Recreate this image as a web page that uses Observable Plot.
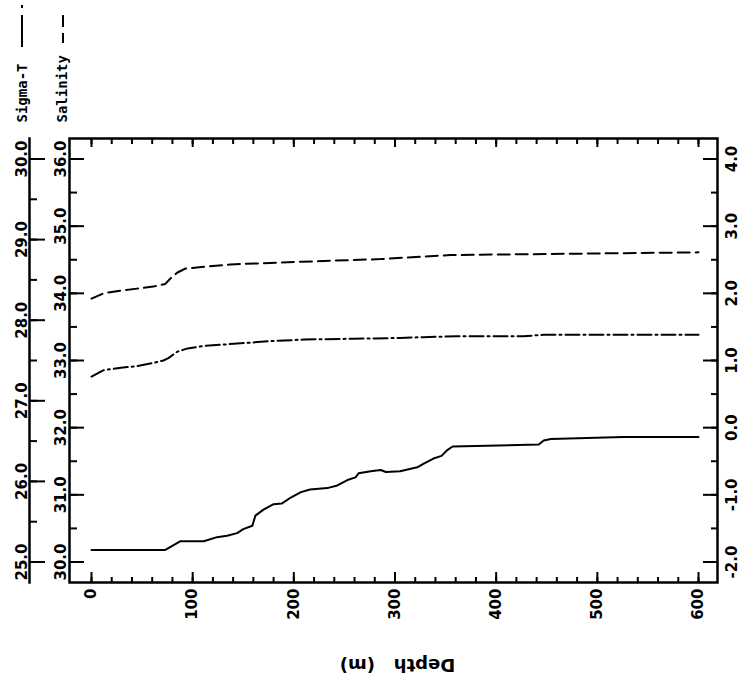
<!DOCTYPE html>
<html><head><meta charset="utf-8">
<script src="https://cdn.jsdelivr.net/npm/d3@7"></script>
<script src="https://cdn.jsdelivr.net/npm/@observablehq/plot@0.6"></script>
<style>body{margin:0;background:#fff}</style>
</head><body><div id="chart"></div>
<script>
// Temperature profile (solid line), right axis, deg C
const depthTemp = [0, 73, 88, 111, 124, 134, 144, 150, 159, 162, 170, 180, 188, 197, 207, 216, 233, 243, 253, 261, 264, 276, 286, 291, 305, 322, 328, 338, 346, 352, 357, 442, 447, 454, 526, 600];
const temperature = [-1.82, -1.82, -1.69, -1.69, -1.63, -1.61, -1.57, -1.51, -1.46, -1.31, -1.22, -1.14, -1.13, -1.04, -0.96, -0.92, -0.90, -0.86, -0.78, -0.74, -0.68, -0.65, -0.63, -0.66, -0.65, -0.59, -0.54, -0.46, -0.42, -0.33, -0.28, -0.25, -0.19, -0.17, -0.14, -0.14];
// Sigma-T profile (dash-dot line), outer left axis
const depthSigma = [0, 12, 29, 45, 61, 71, 76, 85, 95, 111, 144, 177, 210, 259, 305, 328, 361, 427, 447, 600];
const sigmaT = [27.30, 27.38, 27.41, 27.43, 27.47, 27.50, 27.53, 27.61, 27.65, 27.68, 27.71, 27.74, 27.76, 27.77, 27.78, 27.79, 27.80, 27.80, 27.82, 27.82];
// Salinity profile (dashed line), inner left axis
const depthSal = [0, 12, 29, 45, 61, 73, 78, 85, 93, 137, 207, 286, 355, 600];
const salinity = [33.92, 34.00, 34.04, 34.07, 34.10, 34.14, 34.22, 34.31, 34.37, 34.43, 34.47, 34.51, 34.57, 34.61];

// Tick values
const depthTicks = [0, 100, 200, 300, 400, 500, 600];
const depthMinor = d3.range(0, 601, 20);
const tempTicks = [-2, -1, 0, 1, 2, 3, 4];
const tempMinor = d3.range(-2, 4.001, 0.5);
const salTicks = [30, 31, 32, 33, 34, 35, 36];
const salMinor = d3.range(30, 36.001, 0.5);
const sigmaTicks = [25, 26, 27, 28, 29, 30];
const sigmaMinor = d3.range(25, 30.001, 0.5);

// Secondary axes share the temperature y scale
const salToY = s => s - 32;
const yToSal = y => y + 32;
const sigToY = s => (s - 25) * 1.2 - 2;
const yToSig = y => (y + 2) / 1.2 + 25;

const tickFont = {fontFamily: "DejaVu Sans", fontWeight: "bold", fontSize: 15};

function legendSamples(index, scales, values, dims) {
  const g = d3.create("svg:g").attr("stroke", "black").attr("stroke-width", 2).attr("fill", "none");
  const L = dims.marginLeft, T = dims.marginTop;
  // Sigma-T: long dash + dot
  g.append("line").attr("x1", L - 47).attr("x2", L - 47).attr("y1", T - 91).attr("y2", T - 123);
  g.append("line").attr("x1", L - 47).attr("x2", L - 47).attr("y1", T - 130).attr("y2", T - 133);
  // Salinity: two dashes
  g.append("line").attr("x1", L - 6).attr("x2", L - 6).attr("y1", T - 95).attr("y2", T - 105);
  g.append("line").attr("x1", L - 6).attr("x2", L - 6).attr("y1", T - 111).attr("y2", T - 123);
  return g.node();
}

const chart = Plot.plot({
  width: 742,
  height: 680,
  marginLeft: 69,
  marginRight: 25,
  marginTop: 138,
  marginBottom: 98,
  style: {background: "white", color: "black", fontFamily: "DejaVu Sans"},
  x: {domain: [0, 600], range: [91, 698]},
  y: {domain: [-2, 4], range: [561.5, 158.5]},
  marks: [
    Plot.frame({strokeWidth: 2.5}),
    Plot.frame({anchor: "left", dx: -40, strokeWidth: 2.5}),
    // depth axis ticks (bottom and top, inward)
    Plot.axisX(depthTicks, {anchor: "bottom", tickSize: -10, text: null, strokeWidth: 2, label: null}),
    Plot.axisX(depthMinor, {anchor: "bottom", tickSize: -5, text: null, strokeWidth: 2, label: null}),
    Plot.axisX(depthTicks, {anchor: "top", tickSize: -8, text: null, strokeWidth: 2, label: null}),
    Plot.axisX(depthMinor, {anchor: "top", tickSize: -5, text: null, strokeWidth: 2, label: null}),
    Plot.axisX(depthTicks, {anchor: "bottom", tickSize: 0, tickPadding: 6, tickRotate: -90, tickFormat: d => String(d), label: null, ...tickFont}),
    // temperature axis (right)
    Plot.axisY(tempTicks, {anchor: "right", tickSize: -15, text: null, strokeWidth: 2, label: null}),
    Plot.axisY(tempMinor, {anchor: "right", tickSize: -7, text: null, strokeWidth: 2, label: null}),
    Plot.axisY(tempTicks, {anchor: "right", tickSize: 0, tickPadding: 9, tickRotate: -90, textAnchor: "middle", lineAnchor: "top", tickFormat: d => d.toFixed(1), label: null, ...tickFont}),
    // salinity axis (inner left)
    Plot.axisY(salTicks.map(salToY), {anchor: "left", tickSize: -15, text: null, strokeWidth: 2, label: null}),
    Plot.axisY(salMinor.map(salToY), {anchor: "left", tickSize: -8, text: null, strokeWidth: 2, label: null}),
    Plot.axisY(salTicks.map(salToY), {anchor: "left", tickSize: 0, tickPadding: 4, tickRotate: -90, textAnchor: "middle", lineAnchor: "bottom", tickFormat: d => yToSal(d).toFixed(1), label: null, ...tickFont}),
    // sigma-T axis (outer left)
    Plot.axisY(sigmaTicks.map(sigToY), {anchor: "left", dx: -40, tickSize: -16, text: null, strokeWidth: 2, label: null}),
    Plot.axisY(sigmaMinor.map(sigToY), {anchor: "left", dx: -40, tickSize: -8, text: null, strokeWidth: 2, label: null}),
    Plot.axisY(sigmaTicks.map(sigToY), {anchor: "left", dx: -40, tickSize: 0, tickPadding: 3, tickRotate: -90, textAnchor: "middle", lineAnchor: "bottom", tickFormat: d => yToSig(d).toFixed(1), label: null, ...tickFont}),
    // data lines
    Plot.line(temperature, {x: depthTemp, y: temperature, stroke: "black", strokeWidth: 2}),
    Plot.line(sigmaT, {x: depthSigma, y: sigmaT.map(sigToY), stroke: "black", strokeWidth: 2, strokeDasharray: "14,4,2,4"}),
    Plot.line(salinity, {x: depthSal, y: salinity.map(salToY), stroke: "black", strokeWidth: 2, strokeDasharray: "12,6"}),
    // axis title (upside down as in the original)
    Plot.text(["Depth\u00a0\u00a0\u00a0(m)"], {text: d => d, frameAnchor: "bottom", dx: 4, dy: 76, rotate: 180, textAnchor: "middle", lineAnchor: "bottom", fontFamily: "DejaVu Sans", fontWeight: "bold", fontSize: 18}),
    // legend
    Plot.text(["Sigma-T"], {text: d => d, frameAnchor: "top-left", dx: -43, dy: -16, rotate: -90, textAnchor: "start", lineAnchor: "bottom", fontFamily: "DejaVu Sans Mono", fontWeight: "bold", fontSize: 14}),
    Plot.text(["Salinity"], {text: d => d, frameAnchor: "top-left", dx: -3, dy: -16, rotate: -90, textAnchor: "start", lineAnchor: "bottom", fontFamily: "DejaVu Sans Mono", fontWeight: "bold", fontSize: 14}),
    legendSamples
  ]
});
document.getElementById("chart").appendChild(chart);
</script>
</body></html>
